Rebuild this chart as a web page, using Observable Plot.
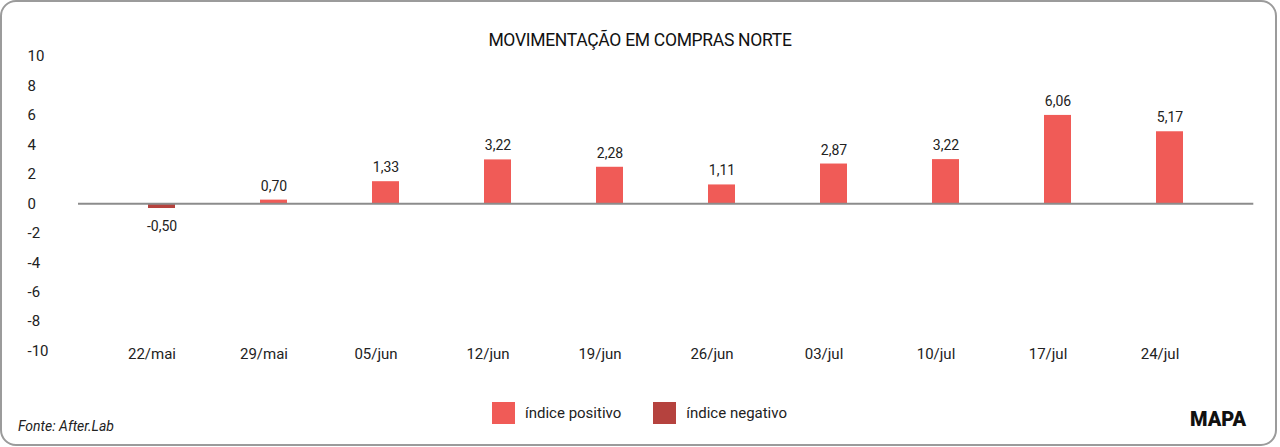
<!DOCTYPE html>
<html><head><meta charset="utf-8">
<script src="https://cdn.jsdelivr.net/npm/d3@7"></script>
<script src="https://cdn.jsdelivr.net/npm/@observablehq/plot@0.6"></script>
<style>
body{margin:0;background:#fff;font-family:Roboto,sans-serif;}
#wrap{position:relative;width:1280px;height:447px;overflow:hidden;background:#fff;}
#card{position:absolute;left:0;top:0;width:1277px;height:446px;box-sizing:border-box;border:2px solid #9b9b9b;border-radius:16px;}
#chart{position:absolute;left:0;top:0;}
#title{position:absolute;left:0;top:32px;width:1280px;text-align:center;font-size:17.5px;line-height:17px;color:#111;letter-spacing:-0.3px;}
#legend{position:absolute;left:492px;top:402px;height:22px;display:flex;align-items:center;font-size:15px;color:#222;}
#legend .sw{width:23px;height:22px;margin-right:10px;}
#legend .lb{margin-right:32px;}
#source{position:absolute;left:18px;top:418px;font-size:14px;line-height:17px;font-style:italic;color:#222;}
#logo{position:absolute;left:1190px;top:409px;font-size:20px;line-height:20px;font-weight:900;color:#111;}
</style></head><body>
<div id="wrap">
<div id="card"></div>
<div id="title">MOVIMENTAÇÃO EM COMPRAS NORTE</div>
<div id="chart"></div>
<div id="legend"></div>
<div id="source">Fonte: After.Lab</div>
<div id="logo">MAPA</div>
</div>
<script>
const weeks = ["22/mai","29/mai","05/jun","12/jun","19/jun","26/jun","03/jul","10/jul","17/jul","24/jul"];
const barValues = [-0.32, 0.25, 1.50, 2.98, 2.48, 1.28, 2.70, 3.00, 6.00, 4.89];
const valueLabels = ["-0,50","0,70","1,33","3,22","2,28","1,11","2,87","3,22","6,06","5,17"];
const yTicks = [-10,-8,-6,-4,-2,0,2,4,6,8,10];
const seriesNames = ["índice positivo","índice negativo"];
const seriesColors = ["#F05B57","#B5423E"];

const data = weeks.map((w,i)=>({week:w, value:barValues[i], label:valueLabels[i], series: barValues[i] >= 0 ? seriesNames[0] : seriesNames[1]}));

const chart = Plot.plot({
  width:1280, height:380,
  marginTop:56, marginBottom:29.4, marginLeft:78, marginRight:26.7,
  x:{type:"band", domain:weeks, paddingInner:0.757, paddingOuter:0.3785, insetLeft:26, insetRight:26, label:null},
  y:{domain:[-10,10], label:null},
  color:{domain:seriesNames, range:seriesColors},
  style:{fontFamily:"Roboto, sans-serif", fontSize:"15px", color:"#222", background:"transparent"},
  marks:[
    Plot.barY(data,{x:"week", y:"value", fill:"series"}),
    Plot.ruleY([0],{stroke:"#8c8c8c", strokeWidth:2}),
    Plot.text(data.filter(d=>d.value>=0),{x:"week", y:"value", text:"label", dy:-14, fontSize:14, fill:"#222"}),
    Plot.text(data.filter(d=>d.value<0),{x:"week", y:"value", text:"label", dy:18, fontSize:14, fill:"#222"}),
    Plot.axisY({ticks:yTicks, tickFormat:d=>String(d), tickSize:0, tickPadding:51, textAnchor:"start", fill:"#222"}),
    Plot.axisX({tickSize:0, tickPadding:3, dy:-5.5, dx:-10, fill:"#222"})
  ]
});
document.getElementById("chart").appendChild(chart);

const legend = document.getElementById("legend");
seriesNames.forEach((n,i)=>{
  const sw = document.createElement("div"); sw.className="sw"; sw.style.background=seriesColors[i];
  const lb = document.createElement("div"); lb.className="lb"; lb.textContent=n;
  legend.appendChild(sw); legend.appendChild(lb);
});
</script>
</body></html>
